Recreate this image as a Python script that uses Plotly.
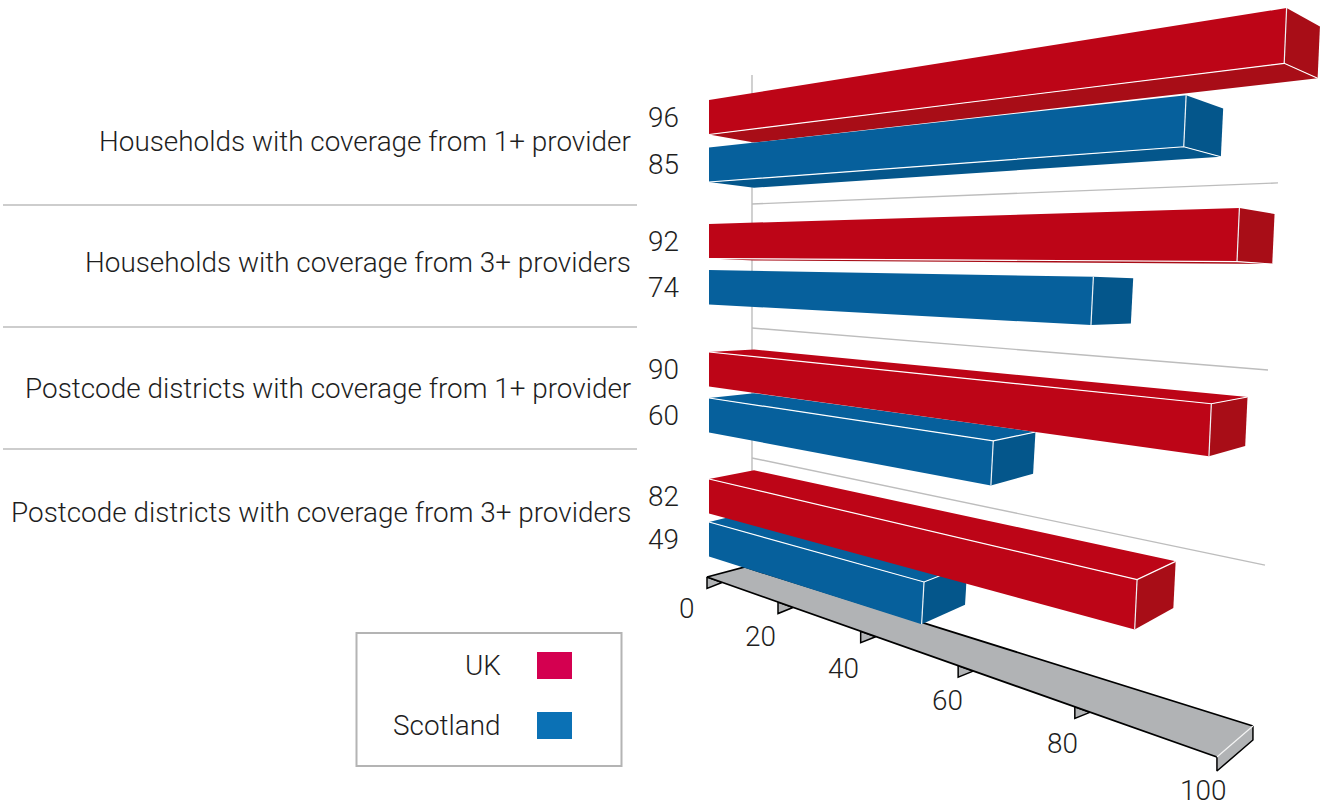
import plotly.graph_objects as go

# Chart content
categories = [
    "Households with coverage from 1+ provider",
    "Households with coverage from 3+ providers",
    "Postcode districts with coverage from 1+ provider",
    "Postcode districts with coverage from 3+ providers",
]
uk_values = [96, 92, 90, 82]
scotland_values = [85, 74, 60, 49]
axis_ticks = [0, 20, 40, 60, 80, 100]
series_names = ["UK", "Scotland"]

# Palette
UK_FACE, UK_SHADE = "#bd0517", "#a80d17"
SCOT_FACE, SCOT_SHADE = "#06609c", "#04568b"
GRID = "#bdbdbd"
FLOOR = "#b1b3b5"
INK = "#1e1e1e"
FONT = "Roboto"
WEIGHT = 300
TEXT_SIZE = 27.9

# Perspective model, in page pixels
ORIGIN_X = 709.0
VP_X, VP_Y = -250.0, 253.0       # vanishing point of the bars' long edges
BAR_HEIGHT = 34.5
EDGE_LEAN = 1.2                  # far-end edges tilt slightly off vertical
BAR_TOPS = [100, 147.5, 224, 270, 352, 398, 479, 522]
WALL_STARTS = [204, 328, 458]
WALL_ENDS = [1278, 1268, 1265]
SEPARATORS = [205, 327, 449]
CATEGORY_Y = [141, 262, 388, 512]
TICK_LABEL_DX = [-21, -18, -17, -11, -12, -14]
TICK_LABEL_DY = [31, 34, 37, 35, 37, 33]
ANCHOR_INSET = 2


def bar_end_x(value, slot):
    """Screen x of a bar's far end: foreshortened scale, leaning with the slot."""
    lean = 0.06 if slot % 2 == 0 else 0.055
    return ORIGIN_X + value / (0.2565 - 0.000937 * value) - lean * slot * value


def along(y_start, x):
    """Height reached at x by an edge that starts at y_start on the origin line."""
    return VP_Y + (y_start - VP_Y) * (x - VP_X) / (ORIGIN_X - VP_X)


def depth_offset(x, y):
    """Offset from a front-face corner to the matching corner at the back."""
    dx = 45 - 3.5e-5 * (x - ORIGIN_X) ** 2
    gain = 0.00109 + 1.4e-6 * (x - ORIGIN_X)
    return dx, dx * gain * (300 - y)


def back(pt):
    dx, dy = depth_offset(*pt)
    return pt[0] + dx, pt[1] + dy


def floor_front(value):
    x = 707 + value / (0.3031 - 0.00107 * value)
    return x, 577 + 0.353 * (x - 707)


def floor_back(value):
    x, y = floor_front(value)
    return x + 38 - 0.02 * value, y - 10 - 0.21 * value


fig = go.Figure()


def polygon(points, fill, line=None, width=0):
    xs = [p[0] for p in points] + [points[0][0]]
    ys = [p[1] for p in points] + [points[0][1]]
    fig.add_trace(go.Scatter(
        x=xs, y=ys, fill="toself", fillcolor=fill,
        mode="lines" if line else "none",
        line=dict(color=line, width=width) if line else None,
        hoverinfo="skip", showlegend=False,
    ))


def stroke(points, color, width):
    fig.add_trace(go.Scatter(
        x=[p[0] for p in points], y=[p[1] for p in points], mode="lines",
        line=dict(color=color, width=width), hoverinfo="skip", showlegend=False,
    ))


# Back wall
stroke([(752, 75), (752, 575)], GRID, 1.4)
for start, end in zip(WALL_STARTS, WALL_ENDS):
    slope = (start - 245) / 1020
    stroke([(752, start), (end, start + slope * (end - 752))], GRID, 1.4)

# Value axis floor with its tick flags
for tick in axis_ticks[:-1]:
    px, py = floor_front(tick)
    polygon([(px, py), (px, py + 11.5), (px + 15, py + 5.5)], FLOOR, "#000000", 1.5)
end_f, end_b = floor_front(100), floor_back(100)
polygon([end_f, (end_f[0], end_f[1] + 14), (end_b[0], end_b[1] + 14), end_b], FLOOR)
stroke([end_f, (end_f[0], end_f[1] + 14), (end_b[0], end_b[1] + 14), end_b], "#000000", 1.5)
polygon([floor_front(0), floor_front(100), floor_back(100), floor_back(0)], FLOOR)
stroke([floor_back(100), floor_back(0), floor_front(0), floor_front(100)], "#000000", 1.8)
stroke([floor_front(100), floor_back(100)], "#f4f4f4", 1.2)


def draw_bar(value, slot, face, shade):
    top = BAR_TOPS[slot]
    bottom = top + BAR_HEIGHT
    x_end = bar_end_x(value, slot)
    a = (ORIGIN_X, top)
    b = (ORIGIN_X, bottom)
    c = (x_end + EDGE_LEAN, along(top, x_end))
    d = (x_end - EDGE_LEAN, along(bottom, x_end))
    ab, bb, cb, db = back(a), back(b), back(c), back(d)
    bottom_open = db[1] > d[1]
    top_open = cb[1] < c[1]
    if bottom_open:
        polygon([b, d, db, bb], shade)
    if top_open:
        polygon([a, c, cb, ab], face)
    polygon([c, d, db, cb], shade)
    polygon([a, c, d, b], face)
    stroke([c, d], "#eef2f5", 1.2)
    if bottom_open:
        stroke([b, d, db], "#ffffff", 1.2)
    if top_open:
        stroke([a, c, cb], "#ffffff", 1.2)


# Bars, painted from the rows furthest from the horizon inwards
bars = []
for row in range(len(categories)):
    bars.append((uk_values[row], 2 * row, UK_FACE, UK_SHADE))
    bars.append((scotland_values[row], 2 * row + 1, SCOT_FACE, SCOT_SHADE))
for bar in sorted(bars, key=lambda b: -abs(BAR_TOPS[b[1]] + BAR_HEIGHT / 2 - 253)):
    draw_bar(*bar)

annotations = []


def label(text, x, y, anchor):
    annotations.append(dict(
        x=x, y=y, xref="x", yref="y", text=text, showarrow=False,
        xanchor=anchor, yanchor="middle",
        font=dict(family=FONT, size=TEXT_SIZE, color=INK, weight=WEIGHT),
    ))


for name, y in zip(categories, CATEGORY_Y):
    label(name, 631 + ANCHOR_INSET, y, "right")
for bar in bars:
    label(str(bar[0]), 679 + ANCHOR_INSET, BAR_TOPS[bar[1]] + BAR_HEIGHT / 2, "right")
for tick, dx, dy in zip(axis_ticks, TICK_LABEL_DX, TICK_LABEL_DY):
    px, py = floor_front(tick)
    label(str(tick), px + dx, py + dy, "center")

# Legend
label(series_names[0], 501 + ANCHOR_INSET, 665, "right")
label(series_names[1], 501 + ANCHOR_INSET, 725, "right")

shapes = [
    dict(type="line", x0=3, x1=637, y0=y, y1=y, xref="x", yref="y",
         line=dict(color=GRID, width=1.4))
    for y in SEPARATORS
]
shapes.append(dict(type="rect", x0=356.5, x1=621.5, y0=633, y1=766, xref="x", yref="y",
                   line=dict(color="#b4b4b4", width=2)))
shapes.append(dict(type="rect", x0=537, x1=572, y0=652, y1=679, xref="x", yref="y",
                   fillcolor="#d40050", line=dict(width=0)))
shapes.append(dict(type="rect", x0=537, x1=572, y0=712, y1=739, xref="x", yref="y",
                   fillcolor="#0b71b5", line=dict(width=0)))

fig.update_layout(
    width=1330, height=807, autosize=False,
    margin=dict(l=0, r=0, t=0, b=0),
    paper_bgcolor="white", plot_bgcolor="white",
    xaxis=dict(range=[0, 1330], visible=False, fixedrange=True),
    yaxis=dict(range=[807, 0], visible=False, fixedrange=True),
    shapes=shapes, annotations=annotations, showlegend=False,
)
fig.write_html("out.html", config=dict(displayModeBar=False))
